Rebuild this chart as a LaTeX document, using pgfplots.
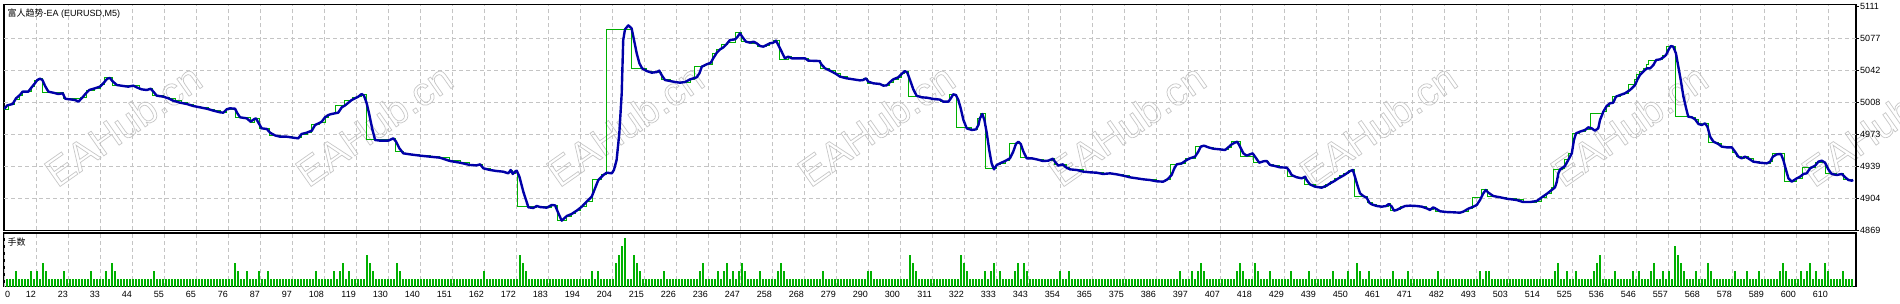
\documentclass[border=0pt]{standalone}
\usepackage{pgfplots}
\pgfplotsset{compat=1.18}
\usepackage{pgfplotstable}
\usepackage{fontspec}
\setmainfont{Liberation Sans}
\newfontfamily\cjk{Noto Sans CJK SC}
\definecolor{eqblue}{RGB}{0,0,168}
\definecolor{balgreen}{RGB}{0,176,0}
\definecolor{gridgray}{RGB}{196,196,196}

\pgfplotstableread{
x y
0 5000
1.1 5004
2.9 5005.5
4.0 5011.6
5.3 5015.2
6.2 5018.8
8.1 5018.8
9.2 5023.5
10.3 5027.8
11.1 5031.4
12.0 5032.8
12.8 5031.4
13.7 5024.9
14.8 5018.8
16.4 5017.7
18.1 5016.3
19.6 5017.0
20.4 5011.2
22.0 5010.5
23.7 5009.8
24.8 5008.0
25.9 5011.6
27.3 5017.0
28.4 5020.6
30.3 5022.4
32.0 5024.2
33.1 5027.8
34.4 5032.8
35.3 5033.6
36.2 5030.0
37.6 5026.0
39.8 5024.9
41.4 5024.2
43.1 5025.3
44.2 5023.5
45.9 5021.3
47.6 5020.6
48.9 5022.0
49.8 5018.8
50.9 5014.5
53.1 5013.4
54.8 5011.6
56.4 5009.1
58.7 5006.9
60.9 5005.5
63.1 5003.3
65.3 5001.9
67.6 5000.4
69.8 4998.3
72.0 4996.5
73.1 4996.1
74.2 4999.7
75.3 5000.8
77.0 5000.4
77.8 4995.4
78.7 4991.1
80.9 4990.0
82.2 4986.4
83.3 4988.9
84.0 4990.0
84.8 4985.3
85.9 4979.2
87.6 4978.5
88.7 4974.5
90.3 4971.6
92.0 4970.2
94.2 4970.2
96.4 4969.1
98.1 4968.4
99.2 4973.1
100.9 4974.5
102.6 4976.7
103.7 4982.8
105.3 4985.3
105.9 4986.4
107.0 4991.1
108.1 4993.6
109.2 4994.7
110.3 4995.4
111.4 4996.1
112.6 5001.9
113.7 5004.0
114.8 5006.9
115.9 5009.8
117.0 5011.6
118.1 5013.4
119.2 5016.3
120.0 5014.5
120.9 5006.2
121.8 4993.6
122.7 4979.2
123.7 4966.6
125.3 4965.9
128.1 4965.9
129.8 4968.4
130.7 4964.8
131.8 4957.6
133.1 4952.2
135.3 4951.1
138.7 4949.7
142.0 4948.6
145.3 4947.5
148.7 4943.9
152.0 4942.1
155.3 4939.6
157.6 4939.2
158.7 4940.3
159.8 4936.0
162.0 4934.2
164.2 4933.1
166.4 4932.4
168.1 4930.6
168.9 4934.2
169.6 4929.9
170.3 4932.4
170.9 4933.5
171.8 4927.0
173.1 4910.8
174.8 4893.9
176.4 4893.2
177.6 4895.3
178.7 4894.2
180.9 4893.5
182.6 4896.4
183.7 4896.0
184.8 4887.4
185.9 4879.5
187.6 4884.5
189.2 4886.7
190.9 4890.3
192.6 4894.6
194.2 4900.0
195.9 4905.4
197.0 4914.4
198.1 4923.4
199.8 4928.8
200.9 4931.3
202.6 4930.6
203.3 4934.2
204.2 4945.0
205.1 4973.8
205.9 5017.0
206.4 5074.6
207.0 5086.1
208.1 5090.4
209.2 5087.2
210.0 5074.6
210.9 5060.2
211.8 5049.4
212.7 5044.0
214.2 5041.1
215.9 5039.3
217.6 5040.0
218.4 5041.5
219.2 5036.8
220.3 5031.4
222.0 5030.3
223.7 5029.2
225.3 5028.5
227.0 5029.2
228.7 5032.1
230.9 5034.3
231.8 5038.6
232.6 5045.8
234.2 5048.3
235.6 5050.1
236.4 5054.8
237.6 5060.9
238.7 5064.5
239.8 5066.7
240.9 5070.3
242.0 5074.6
243.7 5075.3
244.4 5077.5
245.3 5081.8
246.2 5077.5
247.3 5072.8
248.7 5071.7
249.8 5072.8
250.9 5071.0
252.0 5068.1
253.1 5067.4
254.2 5069.2
255.3 5071.0
256.4 5071.7
257.3 5073.9
258.1 5069.2
259.2 5062.0
260.3 5054.8
261.4 5056.6
262.6 5054.8
267.0 5054.8
268.1 5052.3
271.8 5051.9
272.6 5047.6
273.7 5044.0
275.3 5041.5
277.0 5038.6
278.7 5035.0
280.9 5033.2
283.1 5032.1
285.3 5031.0
286.4 5031.4
287.3 5033.2
288.1 5029.6
289.8 5027.8
292.0 5027.1
293.1 5025.3
294.2 5025.6
295.1 5028.5
296.4 5032.1
298.1 5034.3
299.2 5037.9
300.3 5041.1
301.1 5039.3
302.0 5031.4
303.1 5021.3
304.2 5014.4
305.9 5012.7
307.6 5012.3
309.8 5010.9
312.0 5010.2
313.1 5008.0
314.8 5008.0
315.6 5011.6
316.4 5015.9
317.3 5015.2
318.1 5009.8
318.9 5000.8
319.8 4988.2
320.9 4979.2
322.6 4977.4
324.0 4978.1
324.8 4982.8
325.3 4990.0
326.1 4994.7
326.8 4988.2
327.6 4973.8
328.4 4955.8
329.2 4941.4
330.0 4934.9
330.9 4939.6
332.0 4941.4
333.7 4943.9
335.3 4946.8
336.4 4954.0
337.3 4962.3
338.1 4964.8
338.9 4962.3
339.8 4954.0
340.9 4946.8
342.6 4946.8
344.2 4945.7
346.4 4943.9
348.1 4944.3
349.6 4946.4
350.3 4943.2
351.4 4938.9
352.9 4940.3
354.0 4937.1
355.3 4934.9
357.6 4934.2
359.8 4932.4
362.0 4931.7
364.2 4931.3
366.4 4929.9
368.7 4930.6
370.9 4929.5
373.1 4928.1
375.3 4926.3
377.6 4925.2
379.8 4924.1
382.0 4923.4
384.2 4922.0
386.4 4921.6
387.8 4924.1
389.2 4928.8
390.1 4936.0
390.9 4940.3
392.6 4941.4
394.2 4945.0
395.3 4946.8
397.0 4948.6
398.1 4954.0
398.9 4959.4
400.0 4960.5
401.4 4958.7
403.1 4957.2
405.3 4956.5
407.0 4955.8
408.1 4958.7
409.2 4961.9
410.3 4963.7
411.1 4964.8
412.0 4959.4
413.1 4952.2
414.2 4949.7
415.3 4951.1
416.2 4952.2
417.0 4948.6
418.4 4942.1
419.8 4943.6
420.9 4943.9
422.0 4939.6
423.1 4938.9
425.3 4937.1
427.6 4936.7
428.4 4933.5
429.2 4928.8
430.9 4926.3
432.6 4925.2
433.7 4927.0
434.2 4923.4
435.3 4918.7
437.0 4916.2
439.2 4915.1
440.9 4917.3
442.0 4919.8
443.1 4921.6
444.8 4925.2
446.4 4928.1
447.6 4930.6
448.7 4933.1
449.6 4934.2
450.3 4927.0
451.1 4918.0
452.0 4909.0
453.1 4906.1
454.2 4904.3
455.1 4898.9
455.9 4897.1
457.6 4895.3
459.2 4894.6
460.7 4895.3
461.6 4897.5
462.6 4894.6
463.3 4890.3
464.2 4891.0
465.3 4892.8
467.0 4895.3
468.7 4895.7
470.9 4895.3
472.6 4894.6
474.2 4892.8
475.3 4891.0
476.4 4893.9
477.6 4891.7
478.7 4889.6
480.9 4888.8
483.1 4888.5
485.3 4888.1
486.4 4889.2
488.1 4892.4
489.8 4894.6
490.9 4896.4
492.0 4901.8
493.1 4909.0
493.9 4912.6
494.8 4909.7
496.4 4906.1
498.7 4904.7
500.9 4903.2
504.2 4901.8
506.4 4899.6
508.7 4899.6
510.9 4900.7
512.6 4904.7
514.2 4908.3
515.9 4912.6
517.0 4915.5
517.6 4921.6
518.1 4930.6
518.7 4934.9
519.2 4936.0
520.3 4938.5
521.4 4945.0
522.6 4952.2
523.3 4966.6
524.0 4973.8
525.3 4975.6
527.0 4977.4
528.1 4980.3
529.2 4979.2
530.3 4976.7
531.4 4979.2
532.0 4988.2
533.1 4997.2
534.2 5003.3
535.3 5006.2
536.4 5006.9
537.3 5013.4
538.7 5015.2
540.3 5017.0
542.0 5020.6
543.7 5026.0
544.4 5031.4
545.3 5036.8
546.4 5040.4
547.6 5044.0
548.7 5044.0
549.8 5047.6
550.7 5053.0
552.0 5053.7
553.1 5055.9
554.0 5058.4
554.8 5063.8
555.6 5068.1
556.4 5067.4
557.3 5060.2
558.1 5045.8
558.9 5031.4
559.8 5013.4
560.7 5000.8
561.4 4991.8
562.6 4991.1
563.7 4988.9
564.8 4983.9
565.9 4982.8
567.0 4984.6
567.8 4981.0
568.7 4970.2
569.8 4964.8
571.4 4962.3
572.6 4959.4
574.2 4958.7
575.9 4958.7
577.0 4954.0
578.1 4948.6
579.2 4946.8
580.3 4948.6
581.4 4946.8
583.1 4943.2
585.3 4942.1
587.6 4941.4
588.7 4943.2
589.6 4948.6
590.9 4951.1
592.3 4951.5
593.1 4945.0
594.0 4934.2
594.8 4925.2
595.9 4921.6
597.6 4925.2
598.7 4927.0
599.8 4929.9
600.9 4930.6
602.0 4936.0
603.7 4938.9
604.8 4943.2
605.9 4944.3
607.0 4942.1
608.1 4934.9
609.2 4929.9
610.9 4928.8
612.6 4929.9
613.7 4926.3
614.8 4923.4
615.9 4922.7
616.4 4923.4
}\equity

\pgfplotstableread{
x y
0 5000
1.5 5005
3.5 5010
5 5015
6 5019
9 5024
10 5031
11.5 5033
12.9 5018
19.8 5011
25.5 5012
27.5 5020
30 5022
32 5026
33.5 5033.6
36.2 5025
43 5025
45 5021
48 5022
49.5 5015
53 5013
55 5011
57 5009
59 5007
61 5005
63 5003
65.5 5002
68 5000
70 4998
72 4996
74 5000
77 4991
82 4986
83.5 4990
85 4979
88.5 4971
92 4970
96 4969
99 4973
101 4975
102.5 4983
105 4986
107 4991
108 4994
109 4995
110.5 5004
113.5 5009
116 5012
118 5014
119 5016
120.9 4966.6
129.5 4968
130.5 4954
133 4952
135 4951
138.5 4950
142 4948.6
145 4947.5
148.5 4944
152 4942
155 4940
158.5 4940.3
159.5 4936
162 4934
164 4933
166 4932
168 4931
168.8 4934
169.5 4930
170.5 4933
171.3 4894.6
176.4 4893.2
177.6 4895.3
180.9 4893.5
182.5 4896
184.5 4880
187.5 4884.5
189 4886.7
190.5 4890.3
192 4894.6
194 4900
196.2 4923.4
199 4929
200.9 5086
209.2 5044
214 5041
216 5039
217.5 5040
219.2 5031.4
222 5030.3
223.7 5029
225.3 5028.5
227 5029.2
228.7 5032
230.3 5045.8
233.5 5048.3
236 5060
237.5 5064.5
239 5070
241 5072
243.7 5082.9
245.8 5072.8
249 5071
251 5068
253 5067.4
254.2 5069
255.3 5072
256.5 5074
258.4 5053.7
261.4 5056.6
262.5 5054.8
268 5052.3
272 5044
275 5041.5
277 5038.6
278.7 5035
281 5033
283 5032
285.3 5031
286.5 5033.2
287.8 5028
290 5027.8
292 5027
293 5025.5
295 5028.5
296.4 5032
298 5034.3
299.2 5038
300.2 5041.1
301.4 5013.4
306 5012.3
308 5011
310 5010.2
312 5008
315 5015.9
317.6 4979.9
322.6 4977.4
324 4978
324.6 4990
325.5 4995.4
327 4936
330.9 4939.6
332 4941.4
333.7 4944
335.2 4963
338.7 4947.5
342.6 4946.8
344.2 4945.7
346.4 4944
348 4944.3
349.5 4946.4
350.2 4940
354 4937
355.3 4935
357.6 4934.2
359.8 4932.4
362 4931.7
364.2 4931.3
366.4 4930
368.7 4930.6
370.9 4929.5
373.1 4928.1
375.3 4926.3
377.6 4925.2
379.8 4924.1
382 4923.4
384.2 4922
387.3 4924.1
388.8 4940.3
392.6 4941.4
393.8 4946.8
397 4960.1
401.4 4958.7
403.1 4957.2
405.3 4956.5
407 4955.8
408 4958.7
409 4964.8
412 4949.3
416.5 4942.1
419.5 4943.6
421.5 4939.6
423 4938.9
425.3 4937.1
427.8 4927.1
431 4926.3
432.6 4925.2
433.5 4918
437 4916.2
439.2 4915.1
440.5 4919
442 4921.6
443.5 4925.2
445 4928
446.5 4930.6
448 4933.5
449.5 4934.2
450.3 4905.4
454.5 4898.9
456 4897.1
457.6 4895.3
459.2 4894.6
460.5 4895.3
461.4 4897.5
462.3 4890.3
464.2 4891
465.5 4895.3
472.6 4894.6
474.2 4892.8
475.3 4891
476.4 4893.9
477.2 4889.6
480.9 4888.8
483.1 4888.5
485.3 4888.1
486.4 4889.2
488 4892.4
489.5 4904.7
492.5 4912.6
494.5 4906.1
498.7 4904.7
500.9 4903.2
504.2 4901.8
506.4 4899.6
510.9 4900.7
512.6 4904.7
514.2 4908.3
515.8 4915.5
516.4 4934.2
519.5 4936
520.3 4945
521.5 4952
522.8 4973.8
525.3 4975.6
527 4977.4
528.7 4995.4
533.1 4997.2
534.2 5003.3
535.3 5006.2
536 5013.4
538.7 5015.2
540.3 5017
541.5 5026
543.5 5031.4
544.2 5036.8
545.3 5040.4
546.4 5044
547.5 5048
548.2 5052.3
550.7 5053.7
552.8 5057.6
554.3 5068.1
557 5004.4
557.3 4991.8
562.6 4991.1
563.7 4988.9
564.8 4983.9
565.9 4982.8
566.8 4984.6
568.1 4964.4
571.4 4962.3
572.6 4959.4
574.2 4958.7
576 4953
577.5 4948.6
579.2 4946.8
580.3 4948.6
581.4 4946.8
583.1 4943.2
585.3 4942.1
587.6 4941.4
588.7 4943.2
589.5 4951.5
593.4 4921.6
597.6 4925.2
599.5 4937
603.7 4942
607.3 4930.6
610.9 4928.8
612.6 4929.9
613.3 4924
614.8 4923.4
616.4 4923.4
}\balance

\pgfplotstableread[row sep=\\]{
lots\\
1\\1\\1\\2\\1\\1\\1\\1\\2\\1\\
2\\1\\3\\2\\1\\1\\1\\1\\1\\2\\
1\\1\\1\\1\\1\\1\\1\\1\\2\\1\\
1\\1\\1\\2\\1\\3\\2\\1\\1\\1\\
1\\1\\1\\1\\1\\1\\1\\1\\1\\2\\
1\\1\\1\\1\\1\\1\\1\\1\\1\\1\\
1\\1\\1\\1\\1\\1\\1\\1\\1\\1\\
1\\1\\1\\1\\1\\1\\3\\2\\1\\1\\
2\\1\\1\\1\\2\\1\\1\\2\\1\\1\\
1\\1\\1\\1\\1\\1\\1\\1\\1\\1\\
1\\1\\1\\2\\1\\1\\1\\1\\1\\2\\
1\\2\\3\\1\\2\\1\\1\\1\\1\\1\\
4\\3\\2\\1\\1\\1\\1\\1\\1\\1\\
3\\2\\1\\1\\1\\1\\1\\1\\1\\1\\
1\\1\\1\\1\\1\\1\\1\\1\\1\\1\\
1\\1\\1\\1\\1\\1\\1\\1\\1\\2\\
1\\1\\1\\1\\1\\1\\1\\1\\1\\1\\
1\\4\\3\\2\\1\\1\\1\\1\\1\\1\\
1\\1\\1\\1\\1\\1\\1\\1\\1\\1\\
1\\1\\1\\1\\1\\2\\1\\2\\1\\1\\
1\\1\\1\\3\\4\\5\\6\\1\\1\\4\\
3\\2\\1\\1\\1\\1\\1\\1\\1\\2\\
1\\1\\1\\1\\1\\1\\1\\1\\1\\1\\
1\\2\\3\\1\\1\\1\\1\\2\\1\\2\\
3\\1\\2\\1\\2\\3\\2\\1\\1\\1\\
1\\2\\1\\1\\1\\1\\1\\2\\3\\2\\
1\\1\\1\\1\\1\\1\\1\\1\\1\\1\\
1\\1\\2\\1\\1\\1\\1\\1\\1\\1\\
1\\1\\1\\1\\1\\1\\1\\2\\2\\1\\
1\\1\\1\\1\\1\\1\\1\\1\\1\\1\\
1\\4\\3\\2\\1\\1\\1\\1\\1\\1\\
1\\1\\1\\1\\1\\1\\1\\1\\4\\3\\
2\\1\\1\\1\\1\\1\\2\\1\\2\\3\\
1\\2\\1\\1\\1\\1\\2\\3\\1\\3\\
2\\1\\1\\1\\1\\1\\1\\1\\1\\1\\
1\\2\\1\\1\\2\\1\\1\\1\\1\\1\\
1\\1\\1\\1\\1\\1\\1\\1\\1\\1\\
1\\1\\1\\1\\1\\1\\1\\1\\1\\1\\
1\\1\\1\\1\\1\\1\\1\\1\\1\\1\\
1\\2\\1\\1\\1\\2\\1\\2\\3\\2\\
1\\1\\1\\1\\1\\1\\1\\1\\1\\1\\
2\\3\\2\\1\\1\\1\\3\\2\\1\\1\\
1\\2\\1\\1\\1\\1\\1\\1\\2\\1\\
1\\1\\1\\1\\2\\1\\1\\1\\1\\1\\
1\\1\\2\\1\\1\\1\\1\\2\\1\\1\\
3\\2\\1\\1\\2\\1\\1\\1\\1\\1\\
1\\1\\2\\1\\1\\1\\1\\2\\1\\1\\
1\\1\\1\\1\\1\\1\\1\\2\\1\\1\\
1\\1\\1\\1\\1\\1\\1\\1\\1\\1\\
1\\2\\1\\2\\2\\1\\1\\1\\1\\1\\
1\\1\\1\\1\\1\\1\\1\\1\\1\\1\\
1\\1\\1\\1\\1\\1\\2\\3\\1\\1\\
2\\1\\1\\2\\1\\1\\1\\1\\1\\2\\
3\\4\\1\\1\\1\\1\\2\\1\\1\\1\\
1\\1\\2\\1\\2\\1\\1\\1\\2\\3\\
1\\1\\2\\1\\2\\1\\5\\4\\3\\2\\
1\\1\\1\\2\\1\\1\\1\\3\\2\\1\\
1\\1\\1\\1\\1\\1\\2\\1\\1\\1\\
2\\1\\1\\1\\2\\1\\1\\1\\1\\1\\
1\\2\\3\\2\\1\\1\\1\\1\\2\\1\\
2\\3\\1\\2\\1\\1\\3\\2\\1\\1\\
1\\1\\2\\1\\1\\1\\
}\lotstable

\begin{document}
\begin{tikzpicture}[x=1pt,y=1pt]
\fill[white] (0,0) rectangle (1900,-304);
\useasboundingbox (0,0) rectangle (1900,-304);
\foreach \cx in {123,374,625,876,1127,1378,1629,1880}{
  \node[rotate=35, text=black!22, inner sep=0pt, font=\fontsize{40}{40}\selectfont] at (\cx,-125) {\special{pdf:code 1 Tr 0.7 w}EAHub.cn\special{pdf:code 0 Tr}};
}
\begin{axis}[
  at={(4pt,-4.5pt)}, anchor=north west, scale only axis,
  width=1852pt, height=226pt,
  xmin=0, xmax=617.333, ymin=4868.86, ymax=5112.94,
  axis line style={line width=1.2pt, black},
  xtick={0,10.66667,...,608.01}, xticklabels={}, xmajorgrids,
  xtick style={draw=none},
  ytick={4869.1,4903.6,4938.2,4972.8,5007.3,5041.9,5076.4,5111.0},
  yticklabels={4869,4904,4939,4973,5008,5042,5077,5111},
  ytick pos=right, yticklabel pos=right,
  tick align=outside, major tick length=3pt,
  ytick style={black, line width=0.8pt},
  yticklabel style={font=\fontsize{9}{10}\selectfont, anchor=west, inner sep=0pt, xshift=1pt},
  extra y ticks={4903.6,4938.2,4972.8,5007.3,5041.9,5076.4},
  extra y tick labels={},
  extra y tick style={grid=major, tick style={draw=none}},
  major grid style={gridgray, dash pattern=on 4pt off 3pt, line width=0.9pt},
]
\addplot[balgreen, line width=1pt, const plot] table {\balance};
\addplot[eqblue, line width=2.4pt, line join=round] table {\equity};
\end{axis}
\begin{axis}[
  at={(4pt,-233pt)}, anchor=north west, scale only axis,
  width=1852pt, height=53.7pt,
  xmin=0, xmax=617.333, ymin=0.098, ymax=6.646,
  axis line style={line width=1.2pt, black},
  ytick=\empty,
  xtick={10.66667,21.33333,...,608.01},
  xticklabels={12,23,33,44,55,65,76,87,97,108,119,130,140,151,162,172,183,194,204,215,226,236,247,258,268,279,290,300,311,322,333,343,354,365,375,386,397,407,418,429,439,450,461,471,482,493,503,514,525,536,546,557,568,578,589,600,610},
  xmajorgrids, xtick style={draw=none},
  xticklabel style={font=\fontsize{9}{10}\selectfont, anchor=north east, inner sep=0pt, yshift=-4.5pt},
  extra x ticks={0}, extra x tick labels={0},
  extra x tick style={xticklabel style={anchor=north west, xshift=1pt}},
  major grid style={gridgray, dash pattern=on 4pt off 3pt, line width=0.9pt},
]
\addplot[balgreen, line width=1.3pt, ycomb, mark=none] table[x expr=\coordindex+1, y=lots] {\lotstable};
\end{axis}
\node[anchor=base west, inner sep=0pt, font=\fontsize{9}{10}\selectfont] at (7.5,-16.5) {{\cjk 富人趋势}-EA (EURUSD,M5)};
\node[anchor=base west, inner sep=0pt, font=\fontsize{9}{10}\selectfont] at (7.5,-246) {\cjk 手数};
\end{tikzpicture}
\end{document}
